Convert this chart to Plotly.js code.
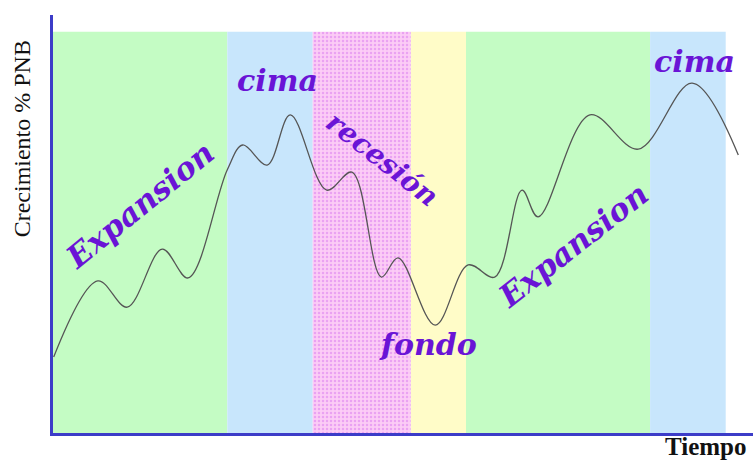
<!DOCTYPE html>
<html>
<head>
<meta charset="utf-8">
<script src="https://cdn.plot.ly/plotly-3.0.1.min.js"></script>
<style>
  body { margin: 0; background: #fff; }
  #chart { width: 753px; height: 463px; }
</style>
</head>
<body>
<div id="chart"></div>
<script>
// Fases del ciclo (inicio / fin en unidades de tiempo)
const phaseNames = ['Expansion', 'cima', 'recesión', 'fondo', 'Expansion', 'cima'];
const phaseStart = [0, 24.9, 37.1, 51.1, 59.0, 85.3];
const phaseEnd   = [24.9, 37.1, 51.1, 59.0, 85.3, 96.1];
const phaseTop = 96;

// Curva del crecimiento
const time   = [0.1, 6.4, 10.6, 15.6, 19.3, 24.9, 27.1, 30.6, 33.9, 39.1, 42.7, 46.9, 49.3, 54.6, 59.3, 63.1, 67.0, 69.3, 76.7, 83.6, 91.3, 97.9];
const growth = [18.2, 36.4, 30.1, 44.0, 37.1, 63.0, 68.9, 64.1, 76.1, 58.1, 62.4, 37.3, 41.9, 25.8, 40.2, 37.3, 58.1, 51.7, 76.1, 67.9, 83.7, 66.5];

// Posicion de las etiquetas de cada fase
const labelX = [12.4, 32.1, 47.1, 53.6, 74.3, 91.6];
const labelY = [54.5, 84.4, 65.5, 21.1, 45.0, 88.8];

// estilos
const bandColors = ['#c4fcc4', '#c8e6fc', '#fcccf6', '#fffcc8', '#c4fcc4', '#c8e6fc'];
const dotted = [false, false, true, false, false, false];
const labelAngles = [-39, 0, 38, 0, -38, 0];
const labelSizes = [31, 30, 28, 30, 31, 30];
const purple = '#6a14d6';
const axisBlue = '#3c3cc8';

// bandas lisas y bandas punteadas por separado
var plain = {x: [], y: [], width: [], color: []};
var dots  = {x: [], y: [], width: [], color: []};
for (var i = 0; i < phaseStart.length; i++) {
  var b = dotted[i] ? dots : plain;
  b.x.push((phaseStart[i] + phaseEnd[i]) / 2);
  b.y.push(phaseTop);
  b.width.push(phaseEnd[i] - phaseStart[i]);
  b.color.push(bandColors[i]);
}

var bands = {
  type: 'bar',
  x: plain.x, y: plain.y, width: plain.width,
  marker: {color: plain.color, line: {width: 0}},
  hoverinfo: 'skip',
  showlegend: false
};

var dottedBands = {
  type: 'bar',
  x: dots.x, y: dots.y, width: dots.width,
  marker: {
    color: dots.color[0],
    line: {width: 0},
    pattern: {
      shape: '.',
      fillmode: 'replace',
      bgcolor: dots.color[0],
      fgcolor: '#eaa2f2',
      size: 4,
      solidity: 0.3
    }
  },
  hoverinfo: 'skip',
  showlegend: false
};

var curve = {
  type: 'scatter',
  mode: 'lines',
  x: time,
  y: growth,
  line: {shape: 'spline', smoothing: 1, color: '#555555', width: 1.3},
  hoverinfo: 'skip',
  showlegend: false
};

var annotations = [];
for (var i = 0; i < phaseNames.length; i++) {
  annotations.push({
    x: labelX[i], y: labelY[i], xref: 'x', yref: 'y',
    text: '<b><i>' + phaseNames[i] + '</i></b>',
    showarrow: false,
    textangle: labelAngles[i],
    font: {family: 'DejaVu Serif', size: labelSizes[i], color: purple}
  });
}
annotations.push({
  x: -0.044, y: 0.703, xref: 'paper', yref: 'paper',
  xanchor: 'center', yanchor: 'middle',
  text: 'Crecimiento % PNB', showarrow: false, textangle: -90,
  font: {family: 'Liberation Serif', size: 24, color: '#111'}
});
annotations.push({
  x: 0.872, y: -0.069, xref: 'paper', yref: 'paper',
  xanchor: 'left', yanchor: 'bottom',
  text: '<b>Tiempo</b>', showarrow: false,
  font: {family: 'Liberation Serif', size: 25, color: '#111'}
});

var layout = {
  width: 753,
  height: 463,
  margin: {l: 53, r: 0, t: 15, b: 30},
  paper_bgcolor: '#ffffff',
  plot_bgcolor: '#ffffff',
  barmode: 'overlay',
  hovermode: false,
  xaxis: {
    range: [0, 100],
    showline: true, linecolor: axisBlue, linewidth: 3,
    showgrid: false, zeroline: false, showticklabels: false, ticks: ''
  },
  yaxis: {
    range: [0, 100],
    showline: true, linecolor: axisBlue, linewidth: 3,
    showgrid: false, zeroline: false, showticklabels: false, ticks: ''
  },
  annotations: annotations
};

Plotly.newPlot('chart', [bands, dottedBands, curve], layout, {displayModeBar: false, staticPlot: true});
</script>
</body>
</html>
